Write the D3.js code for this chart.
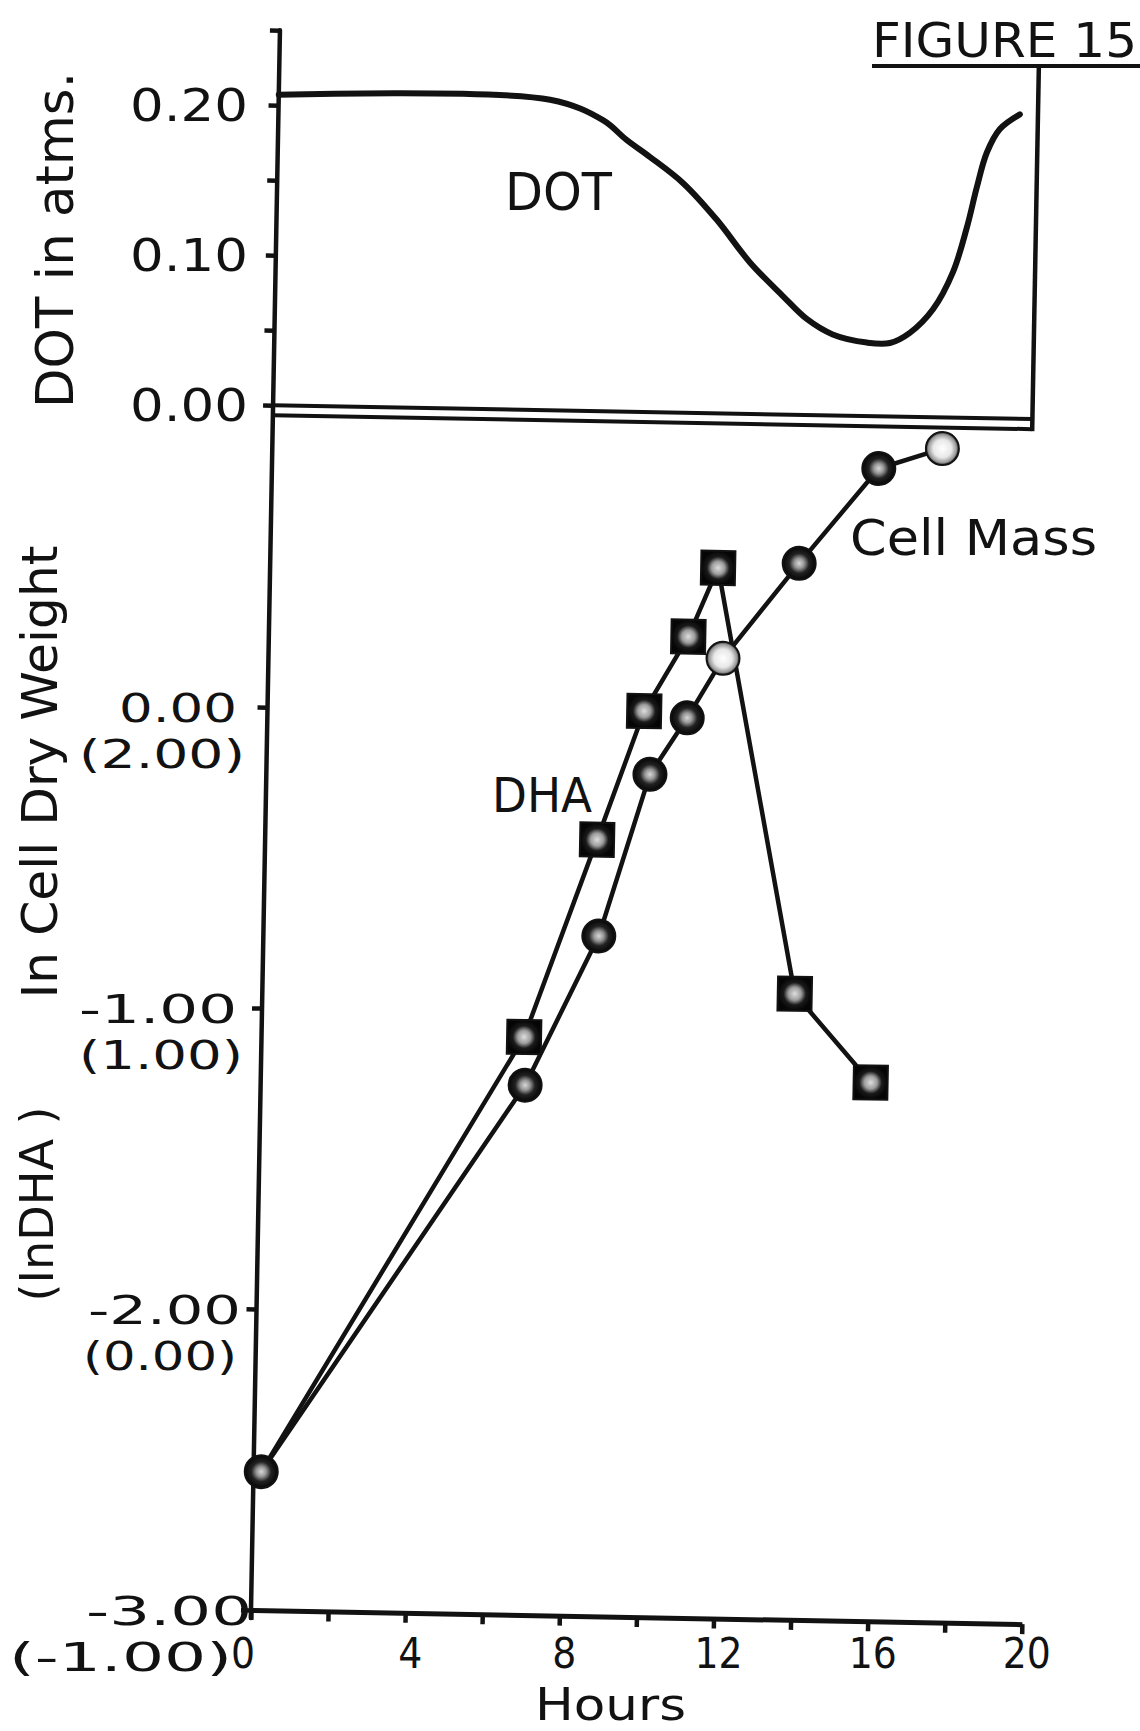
<!DOCTYPE html>
<html>
<head>
<meta charset="utf-8">
<script src="https://cdn.jsdelivr.net/npm/d3@7"></script>
<style>
  html, body { margin: 0; padding: 0; background: #fff; }
  svg { display: block; }
</style>
</head>
<body>
<script>
// ---- data -------------------------------------------------------------
// Dissolved oxygen tension (atm) traced over the fermentation
const dotHours  = [0, 7.04, 8.42, 9.05, 9.66, 10.53, 11.42, 12.30, 13.17, 13.80, 14.48,
                   15.37, 15.97, 16.48, 17.07, 17.57, 17.91, 18.15, 18.39, 18.72, 19.23];
const dotValues = [0.207, 0.207, 0.194, 0.181, 0.170, 0.153, 0.129, 0.101, 0.079, 0.064, 0.054,
                   0.049, 0.049, 0.056, 0.072, 0.097, 0.127, 0.154, 0.177, 0.193, 0.203];

// ln cell dry weight (circles)
const cellHours = [0.2, 6.86, 8.70, 9.95, 10.89, 11.79, 13.72, 15.74, 17.38];
const cellLn    = [-2.54, -1.24, -0.74, -0.20, -0.01, 0.19, 0.51, 0.83, 0.90];
// samples printed as pale (open) circles
const paleCellSamples = [5, 8];

// ln DHA (squares), read on the bracketed scale shifted by +2
const dhaHours = [0.2, 6.81, 8.61, 9.77, 10.88, 11.62, 13.81, 15.82];
const dhaLn    = [-2.54, -1.08, -0.42, 0.01, 0.26, 0.49, -0.92, -1.21];

// axis ticks and their labels
const hourTicks   = [0, 2, 4, 6, 8, 10, 12, 14, 16, 18, 20];
const hourLabels  = [4, 8, 12, 16, 20];
const dotTicks    = [0, 0.05, 0.10, 0.15, 0.20, 0.25];
const dotLabelled = [0, 0.10, 0.20];
const dotLabels   = ['0.00', '0.10', '0.20'];
const lnTicks     = [-3, -2, -1, 0];
const lnLabels    = ['-3.00', '-2.00', '-1.00', '0.00'];
const dhaLabels   = ['(-1.00)', '(0.00)', '(1.00)', '(2.00)'];

// ---- layout -----------------------------------------------------------
const W = 1140, H = 1731;
const ORIGIN = [251, 1610];   // foot of the y axis
const TILT = 1.05;            // the whole frame sits slightly skewed on the page
const rad = TILT * Math.PI / 180, cs = Math.cos(rad), sn = Math.sin(rad);
const toScreen = (u, v) => [ORIGIN[0] + u * cs - v * sn, ORIGIN[1] + u * sn + v * cs];

const INK = '#121212';
const WIDE = "'DejaVu Sans', 'Noto Sans', sans-serif";
const NARROW = "'Liberation Sans Narrow', 'DejaVu Sans Condensed', 'DejaVu Sans', sans-serif";

const x    = d3.scaleLinear().domain([0, 20]).range([0, 771]);
const yLn  = d3.scaleLinear().domain([-3, 1]).range([0, -1204]);
const yDot = d3.scaleLinear().domain([0, 0.25]).range([-1205, -1580]);

const svg = d3.select('body').append('svg')
  .attr('width', W).attr('height', H)
  .attr('viewBox', `0 0 ${W} ${H}`);
svg.append('rect').attr('width', W).attr('height', H).attr('fill', '#fff');

// marker shading
const defs = svg.append('defs');
function radial(id, stops) {
  const g = defs.append('radialGradient').attr('id', id);
  stops.forEach(([o, c]) => g.append('stop').attr('offset', o).attr('stop-color', c));
}
radial('markDark',  [[0, '#d8d8d8'], [0.30, '#969696'], [0.60, '#222'], [1, '#050505']]);
radial('markSquare',[[0, '#dedede'], [0.38, '#9c9c9c'], [0.66, '#1a1a1a'], [1, '#050505']]);
radial('markPale',  [[0, '#ffffff'], [0.55, '#e8e8e8'], [0.85, '#999'], [1, '#2a2a2a']]);

const plot = svg.append('g').attr('transform', `translate(${ORIGIN}) rotate(${TILT})`);

// ---- axes -------------------------------------------------------------
plot.append('line')
  .attr('x1', 0).attr('x2', 0)
  .attr('y1', yLn(-3) + 8).attr('y2', yDot(0.25))
  .attr('stroke', INK).attr('stroke-width', 4.5).attr('stroke-linecap', 'round');

function styleTicks(g) {
  g.select('.domain').remove();
  g.selectAll('.tick line').attr('stroke', INK).attr('stroke-width', 4.5);
  g.selectAll('.tick text').remove();
}
plot.append('g')
  .call(d3.axisLeft(yLn).tickValues(lnTicks).tickSize(10).tickSizeOuter(0))
  .call(styleTicks);
plot.append('g')
  .call(d3.axisLeft(yDot).tickValues(dotTicks).tickSize(10).tickSizeOuter(0))
  .call(styleTicks);

const bottom = plot.append('g')
  .call(d3.axisBottom(x).tickValues(hourTicks).tickSize(10).tickSizeOuter(0));
bottom.select('.domain').attr('stroke', INK).attr('stroke-width', 5);
bottom.selectAll('.tick line').attr('stroke', INK).attr('stroke-width', 4.5);
bottom.selectAll('.tick text').remove();

// panel frame: DOT baseline, top of the ln panel and the right edge
const edgeX = x(19.7);
plot.append('line').attr('x1', 0).attr('x2', edgeX).attr('y1', yDot(0)).attr('y2', yDot(0))
  .attr('stroke', INK).attr('stroke-width', 4);
plot.append('line').attr('x1', 0).attr('x2', edgeX).attr('y1', yLn(0.97)).attr('y2', yLn(0.97))
  .attr('stroke', INK).attr('stroke-width', 4);
plot.append('line').attr('x1', edgeX).attr('x2', edgeX)
  .attr('y1', yLn(0.97) + 2).attr('y2', yDot(0.2357))
  .attr('stroke', INK).attr('stroke-width', 4.5);

// ---- DOT curve --------------------------------------------------------
const dotLine = d3.line()
  .x((d, i) => x(dotHours[i]))
  .y(d => yDot(d))
  .curve(d3.curveCatmullRom.alpha(0.5));
plot.append('path')
  .attr('d', dotLine(dotValues))
  .attr('fill', 'none').attr('stroke', INK)
  .attr('stroke-width', 6).attr('stroke-linecap', 'round').attr('stroke-linejoin', 'round');

// ---- ln series --------------------------------------------------------
const seriesLine = hours => d3.line().x((d, i) => x(hours[i])).y(d => yLn(d));
plot.append('path').attr('d', seriesLine(cellHours)(cellLn))
  .attr('fill', 'none').attr('stroke', INK).attr('stroke-width', 4.5).attr('stroke-linejoin', 'round');
plot.append('path').attr('d', seriesLine(dhaHours)(dhaLn))
  .attr('fill', 'none').attr('stroke', INK).attr('stroke-width', 4.5).attr('stroke-linejoin', 'round');

const SQ = 34, R = 16.5;
plot.append('g').selectAll('rect')
  .data(dhaLn.slice(1))
  .join('rect')
  .attr('x', (d, i) => x(dhaHours[i + 1]) - SQ / 2)
  .attr('y', d => yLn(d) - SQ / 2)
  .attr('width', SQ).attr('height', SQ)
  .attr('fill', 'url(#markSquare)').attr('stroke', INK).attr('stroke-width', 2);

plot.append('g').selectAll('circle')
  .data(cellLn)
  .join('circle')
  .attr('cx', (d, i) => x(cellHours[i]))
  .attr('cy', d => yLn(d))
  .attr('r', R)
  .attr('fill', (d, i) => paleCellSamples.includes(i) ? 'url(#markPale)' : 'url(#markDark)')
  .attr('stroke', INK).attr('stroke-width', 2);

// ---- text -------------------------------------------------------------
function label(str, o) {
  const t = svg.append('text')
    .text(str)
    .attr('fill', INK)
    .attr('font-family', o.family)
    .attr('font-size', o.size)
    .attr('text-anchor', o.anchor || 'start');
  if (o.family === NARROW) t.attr('font-stretch', 'condensed');
  if (o.len) t.attr('textLength', o.len).attr('lengthAdjust', 'spacingAndGlyphs');
  if (o.rotate) {
    t.attr('transform', `translate(${o.x},${o.y}) rotate(${o.rotate})`);
  } else {
    t.attr('x', o.x).attr('y', o.y);
  }
  return t;
}

// figure number with its rule
label('FIGURE 15', { x: 872, y: 57, size: 48, family: NARROW, len: 265 });
svg.append('line').attr('x1', 872).attr('x2', 1140).attr('y1', 66).attr('y2', 66)
  .attr('stroke', INK).attr('stroke-width', 4);

// DOT tick labels
dotLabelled.forEach((v, i) => {
  const [, sy] = toScreen(0, yDot(v));
  label(dotLabels[i], { x: 248, y: sy + 16, size: 44, family: NARROW, anchor: 'end', len: 118 });
});

// ln tick labels: cell dry weight on top, ln DHA in brackets underneath
const lnLabelStyle = {
  '-3.00':   { family: NARROW, len: 166, end: 252 },
  '(-1.00)': { family: NARROW, len: 223, end: 232 },
  '-2.00':   { family: NARROW, len: 153, end: 241 },
  '(0.00)':  { family: NARROW, len: 154, end: 237 },
  '-1.00':   { family: WIDE,   len: 158, end: 237 },
  '(1.00)':  { family: WIDE,   len: 164, end: 243 },
  '0.00':    { family: WIDE,   len: 118, end: 237 },
  '(2.00)':  { family: WIDE,   len: 166, end: 245 }
};
lnTicks.forEach((v, i) => {
  const [, sy] = toScreen(0, yLn(v));
  const a = lnLabelStyle[lnLabels[i]], b = lnLabelStyle[dhaLabels[i]];
  label(lnLabels[i],  { x: a.end, y: sy + 15, size: 39, family: a.family, anchor: 'end', len: a.len });
  label(dhaLabels[i], { x: b.end, y: sy + 61, size: 39, family: b.family, anchor: 'end', len: b.len });
});

// hour tick labels
label('0', { x: toScreen(x(0), 0)[0] - 8, y: 1668, size: 42, family: NARROW, anchor: 'middle' });
hourLabels.forEach(h => {
  label(String(h), { x: toScreen(x(h), 0)[0] + 5, y: 1668, size: 42, family: NARROW, anchor: 'middle' });
});
label('Hours', { x: 535, y: 1720, size: 44, family: NARROW, len: 151 });

// axis titles
label('DOT in atms.',       { x: 73, y: 240,  size: 52, family: WIDE,   anchor: 'middle', len: 336, rotate: -90 });
label('In Cell Dry Weight', { x: 57, y: 772,  size: 50, family: WIDE,   anchor: 'middle', len: 453, rotate: -90 });
label('(InDHA )',           { x: 53, y: 1204, size: 46, family: NARROW, anchor: 'middle', len: 195, rotate: -90 });

// curve names
label('DOT',       { x: 505, y: 210, size: 52, family: NARROW, len: 107 });
label('Cell Mass', { x: 850, y: 555, size: 50, family: WIDE,   len: 247 });
label('DHA',       { x: 492, y: 812, size: 48, family: WIDE,   len: 100 });
</script>
</body>
</html>
